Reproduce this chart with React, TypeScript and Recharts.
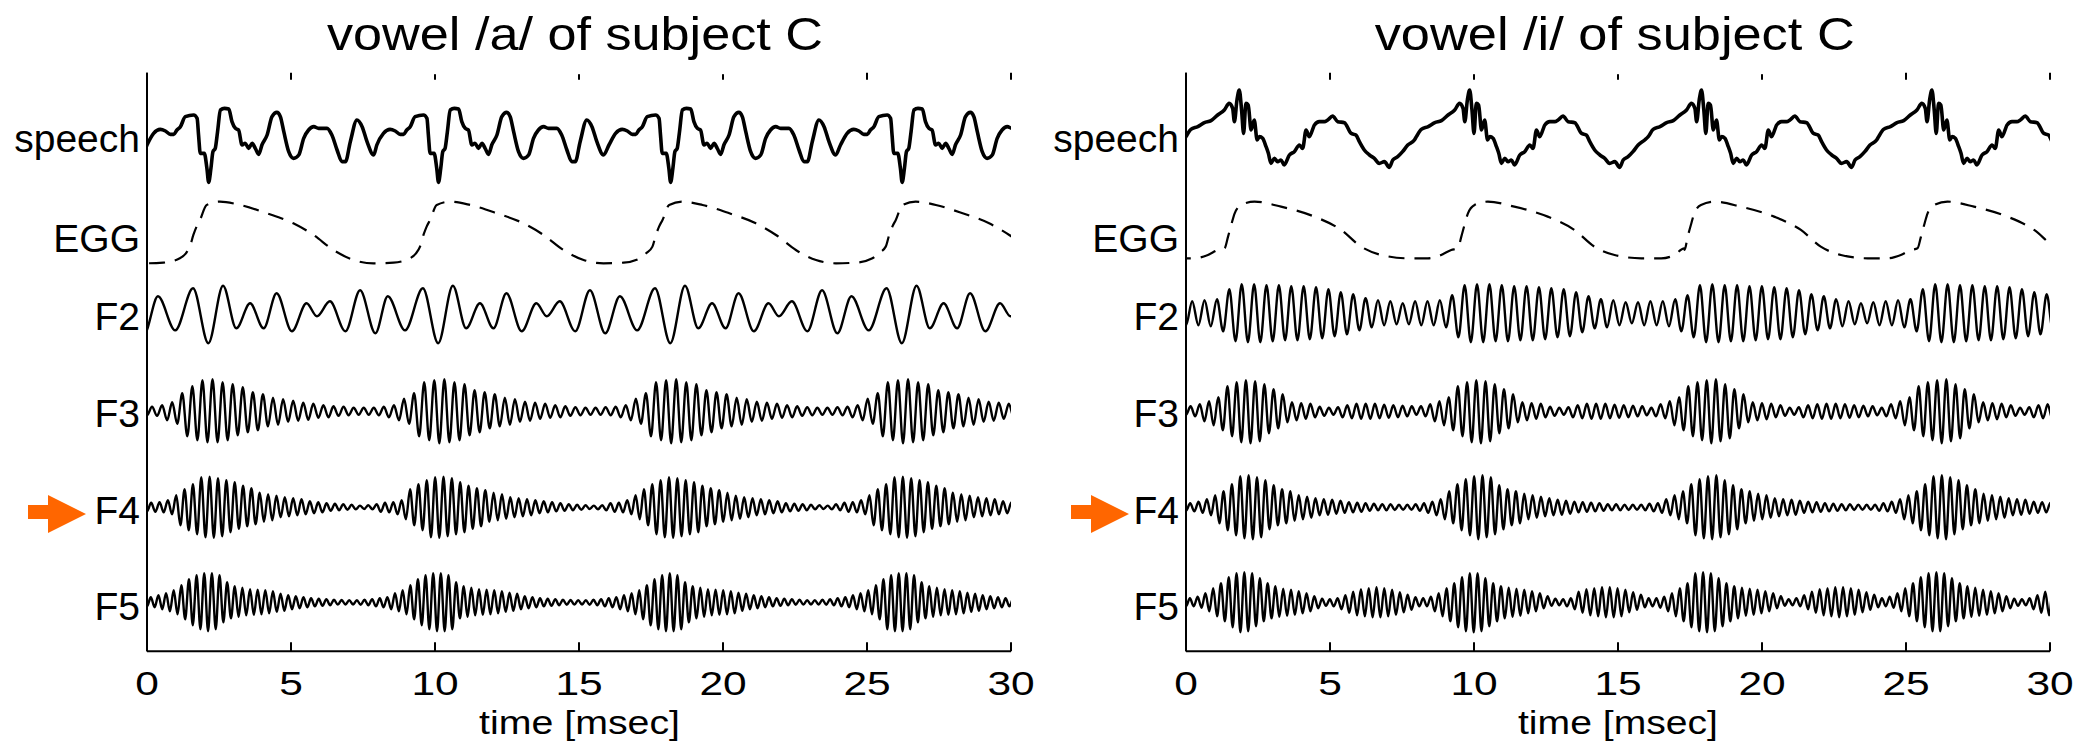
import { Line, LineChart, XAxis, YAxis } from 'recharts';

const FONT = '"Liberation Sans", Arial, Helvetica, sans-serif';
const FIG_W = 2096;
const FIG_H = 744;
const PANEL_W = 1048;
const PLOT_TOP = 72.7;
const PLOT_BOTTOM = 651.3;
const PLOT_H = PLOT_BOTTOM - PLOT_TOP;

const TIME_TICKS = [0, 5, 10, 15, 20, 25, 30];
const ROW_NAMES = ['speech', 'EGG', 'F2', 'F3', 'F4', 'F5'];
// inward tick marks on the left/right frame
const FRAME_Y_TICKS = [516.8, 355.3, 193.3, 32.3];

// glottal cycle onsets [ms]
const A_CYCLES = [-8.02, 0, 7.98, 16.04, 24.08];
const I_CYCLES = [-8.0, 0, 8.0, 16.05, 24.05];
const A_EGG_CYCLES = [-6.5, 1.49, 9.48, 17.55, 25.65];
const I_EGG_CYCLES = [-6.76, 1.34, 9.44, 17.3, 25.4];

// one period of each waveform: [ms into cycle, amplitude]
const A_SPEECH: [number, number][] = [
  [0.0, 0.0], [0.23, 3.5], [0.46, 4.7], [0.64, 4.2], [0.81, 3.2], [0.93, 3.2], [1.04, 4.5],
  [1.16, 5.5], [1.33, 8.5], [1.62, 9.0], [1.74, 8.0], [1.79, 3.0], [1.85, -2.5], [1.99, -2.5],
  [2.08, -7.0], [2.14, -11.2], [2.22, -7.0], [2.29, -2.0], [2.37, -1.0], [2.45, 4.0],
  [2.55, 10.5], [2.69, 11.0], [2.84, 10.8], [2.95, 7.0], [3.07, 5.0], [3.18, 4.5], [3.3, 0.0],
  [3.41, 0.5], [3.53, -1.0], [3.65, 0.5], [3.76, -1.0], [3.88, -2.8], [3.99, 0.0], [4.17, 3.0],
  [4.34, 8.5], [4.51, 9.8], [4.63, 8.5], [4.75, 4.0], [4.92, -2.0], [5.09, -4.0], [5.27, -3.0],
  [5.44, 2.0], [5.61, 4.5], [5.79, 5.5], [5.96, 5.0], [6.25, 5.0], [6.42, 3.0], [6.6, -1.5],
  [6.77, -5.0], [6.89, -5.0], [7.06, 1.0], [7.29, 7.5], [7.47, 5.5], [7.64, 1.0], [7.87, -3.0],
];
const I_SPEECH: [number, number][] = [
  [0.0, -2.0], [0.17, 0.2], [0.41, 1.0], [0.64, 2.2], [0.87, 2.8], [1.1, 4.5], [1.33, 6.0],
  [1.5, 8.0], [1.62, 6.5], [1.68, 2.5], [1.77, 9.0], [1.85, 12.0], [1.93, 6.0], [2.0, -1.0],
  [2.08, 8.0], [2.16, 7.5], [2.26, 0.0], [2.37, 3.0], [2.47, -3.0], [2.55, -2.0], [2.66, -2.5],
  [2.78, -5.0], [2.86, -7.0], [2.95, -10.0], [3.07, -8.5], [3.18, -9.5], [3.3, -9.0],
  [3.41, -10.5], [3.59, -7.5], [3.76, -6.5], [3.94, -4.5], [4.05, -5.5], [4.17, 0.0],
  [4.28, -2.0], [4.46, 1.5], [4.63, 2.5], [4.8, 2.5], [4.92, 3.0], [5.09, 4.2], [5.27, 2.5],
  [5.5, 2.2], [5.73, -1.0], [5.9, -1.5], [6.02, -3.5], [6.19, -6.0], [6.37, -7.5], [6.54, -8.5],
  [6.71, -10.0], [6.89, -9.5], [7.06, -11.2], [7.18, -9.0], [7.35, -8.0], [7.52, -6.5],
  [7.7, -4.5], [7.93, -3.0],
];
const A_EGG: [number, number][] = [
  [0.0, -4.0], [0.12, -0.5], [0.23, 2.0], [0.35, 4.0], [0.58, 8.5], [1.04, 9.5], [1.74, 8.5],
  [2.67, 6.0], [3.59, 3.0], [4.29, -0.5], [4.98, -5.0], [5.68, -8.0], [6.37, -9.0], [7.07, -8.8],
  [7.64, -7.5], [7.85, -6.0],
];
const I_EGG: [number, number][] = [
  [0.0, -4.5], [0.12, -1.0], [0.23, 2.5], [0.35, 6.0], [0.58, 8.5], [1.04, 9.5], [1.96, 8.0],
  [3.12, 5.0], [4.05, 1.0], [4.74, -4.0], [5.44, -6.5], [6.37, -7.5], [7.06, -7.5], [7.52, -6.5],
  [7.87, -5.0],
];
// F2 of /a/: peaks and troughs over one period
const A_F2: [number, number][] = [
  [0.38, 17], [0.98, -17], [1.6, 25], [2.13, -30], [2.64, 27.5], [3.1, -15], [3.58, 10],
  [4.05, -15], [4.5, 20], [5.03, -18], [5.54, 10], [5.9, -3], [6.35, 12], [6.89, -18],
  [7.4, 23], [7.93, -20],
];

// band envelopes, sampled every 0.25 ms of a glottal period
const ENV_STEP = 0.25;
const A_F3_ENV = [4, 4.5, 6, 9, 12.5, 18, 25, 29, 31, 32, 31, 29, 27, 24, 21, 19, 17, 15, 13.5, 12, 10.5, 9.5, 8.5, 7.5, 6.5, 6, 5, 4.5, 4, 3.5, 3.5, 3.5, 4];
const A_F4_ENV = [4, 4.5, 5, 7, 12, 18, 23, 27, 30, 30.5, 29, 27, 25, 21.5, 19, 17, 14.5, 13, 11.5, 10, 9, 8, 7, 6, 5, 4, 3.5, 3, 2.5, 2, 1.7, 2, 3];
const A_F5_ENV = [4, 5, 7, 9, 12, 17, 23, 27, 29, 29, 27, 20, 16, 14.5, 13, 12.5, 12, 11, 9.5, 8.5, 7, 6, 5, 4, 3.5, 3, 2.5, 2.3, 2.2, 2.2, 2.5, 3, 4];
const I_F2_ENV = [12, 12, 12, 13, 14, 18, 24, 28, 29, 29, 29, 28, 28, 28, 27, 27, 27, 26, 26, 25, 24, 23, 21, 19, 17, 15, 14, 13, 12, 11, 10, 11, 12];
const I_F3_ENV = [3.5, 5, 7, 10, 14, 19, 25, 29, 31, 32, 30, 27, 22, 17, 11, 9, 8, 7.5, 6, 4.5, 3.5, 4, 6, 7, 7.5, 7.5, 7.5, 7, 6.5, 6, 5.5, 5, 4];
const I_F4_ENV = [3.5, 4, 5.5, 8, 12, 16, 23, 28, 31, 32, 30, 27, 22, 18, 16, 13.5, 12, 10.5, 9, 8, 7.5, 6.5, 5.5, 5, 4.5, 4, 3.5, 3, 3, 2.7, 2.5, 2.5, 3];
const I_F5_ENV = [4, 4, 5.5, 9, 14, 19, 25, 29, 30, 29, 24, 19, 16, 14.5, 13.5, 12.5, 11, 9, 6, 3.5, 3, 4, 7, 10.5, 13, 14, 15, 15, 14, 12.5, 10, 7.5, 5];

// band centre periods [ms]
const A_PERIODS = { F3: 0.35, F4: 0.29, F5: 0.265 };
const I_PERIODS = { F2: 0.43, F3: 0.32, F4: 0.29, F5: 0.27 };

// vertical placement of each trace (plot units, 1 unit = 1px)
const ROW_BASE_A = [506.3, 418, 338, 240, 144, 49];
const ROW_BASE_I = [521.3, 418, 338, 240, 144, 49];
const ROW_LABEL_LEVEL = [499.3, 399.6, 321.3, 224.3, 127.6, 31];
const WAVE_GAIN = 10 / 3;

type Pt = { t: number; v: number };

function tile(cycles: number[], period: [number, number][], base: number, gain: number): Pt[] {
  const pts: Pt[] = [];
  cycles.forEach((c) =>
    period.forEach(([dt, a]) => {
      const t = c + dt;
      if (t > -1 && t < 31) pts.push({ t, v: base + gain * a });
    }),
  );
  return pts.sort((p, q) => p.t - q.t);
}

// peaks/troughs of a band signal whose height follows the envelope
function band(cycles: number[], env: number[], periodMs: number, base: number): Pt[] {
  const half = periodMs / 2;
  const pts: Pt[] = [];
  for (let k = 0; k * half - half < 31; k++) {
    const t = k * half - half;
    let start = cycles[0];
    for (const c of cycles) if (c <= t) start = c;
    const idx = Math.min(env.length - 1, Math.max(0, Math.round((t - start) / ENV_STEP)));
    pts.push({ t, v: base + (k % 2 === 0 ? 1 : -1) * env[idx] });
  }
  return pts;
}

const A_SERIES = [
  tile(A_CYCLES, A_SPEECH, ROW_BASE_A[0], WAVE_GAIN),
  tile(A_EGG_CYCLES, A_EGG, ROW_BASE_A[1], WAVE_GAIN),
  tile(A_CYCLES, A_F2, ROW_BASE_A[2], 1),
  band(A_CYCLES, A_F3_ENV, A_PERIODS.F3, ROW_BASE_A[3]),
  band(A_CYCLES, A_F4_ENV, A_PERIODS.F4, ROW_BASE_A[4]),
  band(A_CYCLES, A_F5_ENV, A_PERIODS.F5, ROW_BASE_A[5]),
];
const I_SERIES = [
  tile(I_CYCLES, I_SPEECH, ROW_BASE_I[0], WAVE_GAIN),
  tile(I_EGG_CYCLES, I_EGG, ROW_BASE_I[1], WAVE_GAIN),
  band(I_CYCLES, I_F2_ENV, I_PERIODS.F2, ROW_BASE_I[2]),
  band(I_CYCLES, I_F3_ENV, I_PERIODS.F3, ROW_BASE_I[3]),
  band(I_CYCLES, I_F4_ENV, I_PERIODS.F4, ROW_BASE_I[4]),
  band(I_CYCLES, I_F5_ENV, I_PERIODS.F5, ROW_BASE_I[5]),
];

const EmptyTick = () => <g />;

function Panel({
  left,
  plotLeft,
  plotRight,
  series,
}: {
  left: number;
  plotLeft: number;
  plotRight: number;
  series: Pt[][];
}) {
  const TimeTick = ({ x, payload }: any) => (
    <g>
      <line x1={x} x2={x} y1={PLOT_BOTTOM} y2={PLOT_BOTTOM - 9} stroke="#000" strokeWidth={2} />
      <line x1={x} x2={x} y1={PLOT_TOP} y2={PLOT_TOP + 7} stroke="#000" strokeWidth={2} />
      <text
        transform={`translate(${x} 694.7) scale(1.25 1)`}
        textAnchor="middle"
        fontSize={34}
        fontFamily={FONT}
        fill="#000"
      >
        {payload.value}
      </text>
    </g>
  );
  const NameTick = ({ y, payload }: any) => {
    const i = ROW_LABEL_LEVEL.indexOf(payload.value);
    return (
      <text x={plotLeft - 7} y={y} textAnchor="end" fontSize={39} fontFamily={FONT} fill="#000">
        {ROW_NAMES[i]}
      </text>
    );
  };
  const FrameTick = ({ y }: any) => (
    <g>
      <line x1={plotLeft} x2={plotLeft + 8} y1={y} y2={y} stroke="#000" strokeWidth={2} />
      <line x1={plotRight - 8} x2={plotRight} y1={y} y2={y} stroke="#000" strokeWidth={2} />
    </g>
  );

  return (
    <div style={{ position: 'absolute', left, top: 0 }}>
      <LineChart
        width={PANEL_W}
        height={FIG_H}
        margin={{ top: PLOT_TOP, right: PANEL_W - plotRight, bottom: 0, left: 0 }}
      >
        <XAxis
          xAxisId="t"
          dataKey="t"
          type="number"
          domain={[0, 30]}
          ticks={TIME_TICKS}
          allowDataOverflow
          height={FIG_H - PLOT_BOTTOM}
          tickLine={false}
          axisLine={{ stroke: '#000', strokeWidth: 2 }}
          tick={TimeTick}
        />
        <XAxis
          xAxisId="top"
          orientation="top"
          type="number"
          domain={[0, 30]}
          ticks={TIME_TICKS}
          height={0}
          tickLine={false}
          axisLine={{ stroke: '#000', strokeWidth: 2 }}
          tick={EmptyTick}
        />
        <YAxis
          yAxisId="y"
          type="number"
          domain={[0, PLOT_H]}
          allowDataOverflow
          ticks={ROW_LABEL_LEVEL}
          width={plotLeft}
          tickLine={false}
          axisLine={{ stroke: '#000', strokeWidth: 2 }}
          tick={NameTick}
        />
        <YAxis
          yAxisId="frame"
          orientation="right"
          type="number"
          domain={[0, PLOT_H]}
          ticks={FRAME_Y_TICKS}
          width={0}
          tickLine={false}
          axisLine={{ stroke: '#000', strokeWidth: 2 }}
          tick={FrameTick}
        />
        {series.map((data, i) => (
          <Line
            key={ROW_NAMES[i]}
            xAxisId="t"
            yAxisId="y"
            data={data}
            dataKey="v"
            type="monotone"
            stroke="#000"
            strokeWidth={i === 0 ? 3.6 : i === 1 ? 2.2 : 2.4}
            strokeDasharray={i === 1 ? '16 10' : undefined}
            dot={false}
            activeDot={false}
            isAnimationActive={false}
          />
        ))}
      </LineChart>
    </div>
  );
}

function Arrow({ x }: { x: number }) {
  // body 20px, head 38px, pointing right
  const pts = [
    [x, 505],
    [x + 20, 505],
    [x + 20, 495],
    [x + 58, 514],
    [x + 20, 533],
    [x + 20, 519],
    [x, 519],
  ]
    .map((p) => p.join(','))
    .join(' ');
  return <polygon points={pts} fill="#ff6600" />;
}

export default function App() {
  return (
    <div
      style={{
        position: 'absolute',
        left: 0,
        top: 0,
        width: FIG_W,
        height: FIG_H,
        background: '#fff',
        overflow: 'hidden',
      }}
    >
      <Panel left={0} plotLeft={147} plotRight={1011} series={A_SERIES} />
      <Panel left={PANEL_W} plotLeft={138} plotRight={1002} series={I_SERIES} />
      <svg
        width={FIG_W}
        height={FIG_H}
        style={{ position: 'absolute', left: 0, top: 0, pointerEvents: 'none' }}
        fontFamily={FONT}
      >
        <rect x={300} y={0} width={547} height={74.2} fill="#fff" />
        <rect x={1351} y={0} width={529} height={74.2} fill="#fff" />
        <text x={575} y={50} textAnchor="middle" fontSize={47} textLength={496} lengthAdjust="spacingAndGlyphs">
          vowel /a/ of subject C
        </text>
        <text x={1614.7} y={50} textAnchor="middle" fontSize={47} textLength={480} lengthAdjust="spacingAndGlyphs">
          vowel /i/ of subject C
        </text>
        <text x={579.5} y={733.7} textAnchor="middle" fontSize={34} textLength={201} lengthAdjust="spacingAndGlyphs">
          time [msec]
        </text>
        <text x={1618} y={733.7} textAnchor="middle" fontSize={34} textLength={200} lengthAdjust="spacingAndGlyphs">
          time [msec]
        </text>
        <Arrow x={28} />
        <Arrow x={1071} />
      </svg>
    </div>
  );
}
